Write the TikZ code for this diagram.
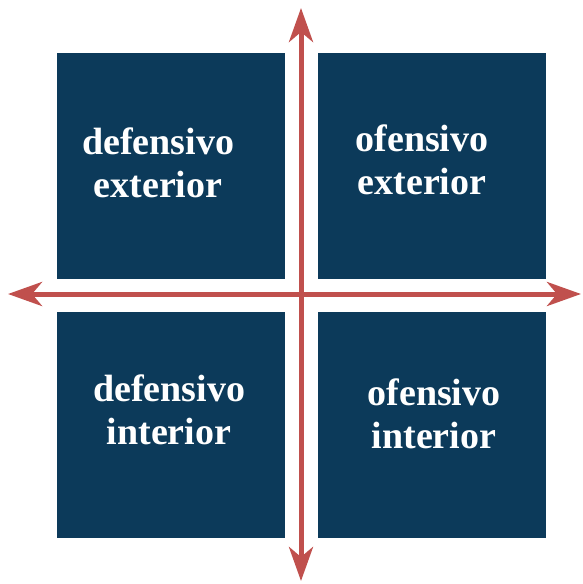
\documentclass[tikz,border=0pt]{standalone}
\usepackage{fontspec}
\setmainfont{Liberation Serif}
\usetikzlibrary{arrows.meta}
\definecolor{QNavy}{RGB}{12,58,90}
\definecolor{QRed}{RGB}{192,80,77}

\begin{document}
\begin{tikzpicture}[x=1pt, y=-1pt,
    quad/.style={fill=QNavy, minimum width=228pt, minimum height=226pt, inner sep=0pt},
    quadtext/.style={text=white, font=\fontsize{38}{43}\selectfont\bfseries,
                     align=center, inner sep=0pt},
    axis/.style={QRed, line width=5pt,
                 {Stealth[length=34pt, width=24pt, inset=10pt]}-{Stealth[length=34pt, width=24pt, inset=10pt]}}]
  \useasboundingbox (0,0) rectangle (583,584);
  % ---- quadrants ----
  \node[quad] (defext) at (171,166) {};
  \node[quad] (ofeext) at (431.5,166) {};
  \node[quad] (defint) at (171,424.5) {};
  \node[quad] (ofeint) at (431.5,424.5) {};
  % labels
  \node[quadtext] (defextlbl) at (158,163) {defensivo\\exterior};
  \node[quadtext] (ofeextlbl) at (422,159.5) {ofensivo\\exterior};
  \node[quadtext] (defintlbl) at (169,409.5) {defensivo\\interior};
  \node[quadtext] (ofeintlbl) at (434,413.5) {ofensivo\\interior};
  % ---- axes ----
  \coordinate (west) at (8,294);
  \coordinate (east) at (581,294);
  \coordinate (north) at (301,8);
  \coordinate (south) at (301,581);
  \draw[axis] (west) -- (east);
  \draw[axis] (north) -- (south);
\end{tikzpicture}
\end{document}
